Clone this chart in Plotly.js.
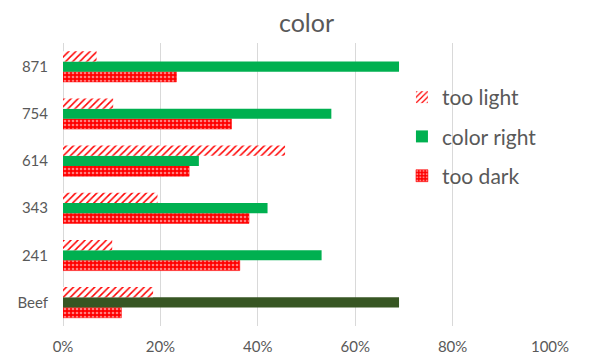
<!DOCTYPE html>
<html>
<head>
<meta charset="utf-8">
<script src="https://cdn.plot.ly/plotly-3.0.1.min.js"></script>
<style>
  html, body { margin: 0; padding: 0; background: #ffffff; }
  #chart { width: 589px; height: 356px; }
</style>
</head>
<body>
<div id="chart"></div>
<script>
// Samples, listed bottom to top as they appear on the category axis
const samples = ['Beef', '241', '343', '614', '754', '871'];

// Share of panel answers per sample, in percent
const tooLight   = [18.5, 10.1, 19.4, 45.6, 10.3, 6.9];
const colorRight = [69.0, 53.1, 42.0, 27.9, 55.1, 69.0];
const tooDark    = [12.0, 36.3, 38.2, 25.9, 34.6, 23.3];

// The reference sample (Beef) gets a darker green
const rightColors = samples.map(s => s === 'Beef' ? '#375623' : '#00b050');

const textColor = '#595959';
const fontFamily = 'Lato, "Open Sans", sans-serif';

// Reversed copy for the "color right" trace so its legend swatch takes the
// regular green of the first point; the axis order is fixed by categoryarray.
const rev = a => a.slice().reverse();

// Grouped horizontal bars stack from the bottom up, so the trace order is
// the reverse of the legend; legendrank puts the legend back in order.
// Each trace sits in its own legend group so tracegroupgap spaces the rows.
const traces = [
  {
    type: 'bar', orientation: 'h', name: 'too dark', legendrank: 3, legendgroup: 'g3',
    y: samples, x: tooDark,
    marker: {
      color: '#ff0000',
      line: { color: '#ff0000', width: 0.5 },
      pattern: { shape: '.', fillmode: 'overlay', bgcolor: '#ff0000', fgcolor: '#ffffff', size: 4, solidity: 0.35 }
    },
    hoverinfo: 'skip'
  },
  {
    type: 'bar', orientation: 'h', name: 'color right', legendrank: 2, legendgroup: 'g2',
    y: rev(samples), x: rev(colorRight),
    marker: { color: rev(rightColors), line: { width: 0 } },
    hoverinfo: 'skip'
  },
  {
    type: 'bar', orientation: 'h', name: 'too light', legendrank: 1, legendgroup: 'g1',
    y: samples, x: tooLight,
    marker: {
      color: '#ff0000',
      line: { width: 0 },
      pattern: { shape: '/', fillmode: 'replace', fgcolor: '#ff0000', bgcolor: '#ffffff', size: 5, solidity: 0.3 }
    },
    hoverinfo: 'skip'
  }
];

const layout = {
  width: 589, height: 356,
  margin: { l: 63, r: 39, t: 43, b: 30, pad: 0 },
  paper_bgcolor: '#ffffff', plot_bgcolor: '#ffffff',
  font: { family: fontFamily, color: textColor },
  title: {
    text: 'color',
    font: { family: fontFamily, size: 25, color: textColor },
    x: 0.5, xanchor: 'center', xref: 'paper',
    y: 0.935, yanchor: 'middle', yref: 'container'
  },
  barmode: 'group',
  bargap: 0.35,
  bargroupgap: 0,
  xaxis: {
    range: [0, 100], dtick: 20, ticksuffix: '%',
    showgrid: true, gridcolor: '#d9d9d9', gridwidth: 1,
    zeroline: true, zerolinecolor: '#d9d9d9', zerolinewidth: 1,
    showline: false, ticks: '',
    tickfont: { family: fontFamily, size: 15, color: textColor },
    ticklabelstandoff: 10,
    fixedrange: true
  },
  yaxis: {
    type: 'category',
    categoryorder: 'array', categoryarray: samples,
    showgrid: false, zeroline: false, showline: false, ticks: '',
    tickfont: { family: fontFamily, size: 15, color: textColor },
    ticklabelstandoff: 14,
    fixedrange: true
  },
  legend: {
    x: 0.696, xanchor: 'left', xref: 'paper',
    y: 0.88, yanchor: 'top', yref: 'paper',
    bgcolor: 'rgba(0,0,0,0)',
    traceorder: 'grouped',
    tracegroupgap: 9,
    itemwidth: 30,
    font: { family: fontFamily, size: 21, color: textColor }
  },
  showlegend: true
};

Plotly.newPlot('chart', traces, layout, { displayModeBar: false, staticPlot: true });
</script>
</body>
</html>
